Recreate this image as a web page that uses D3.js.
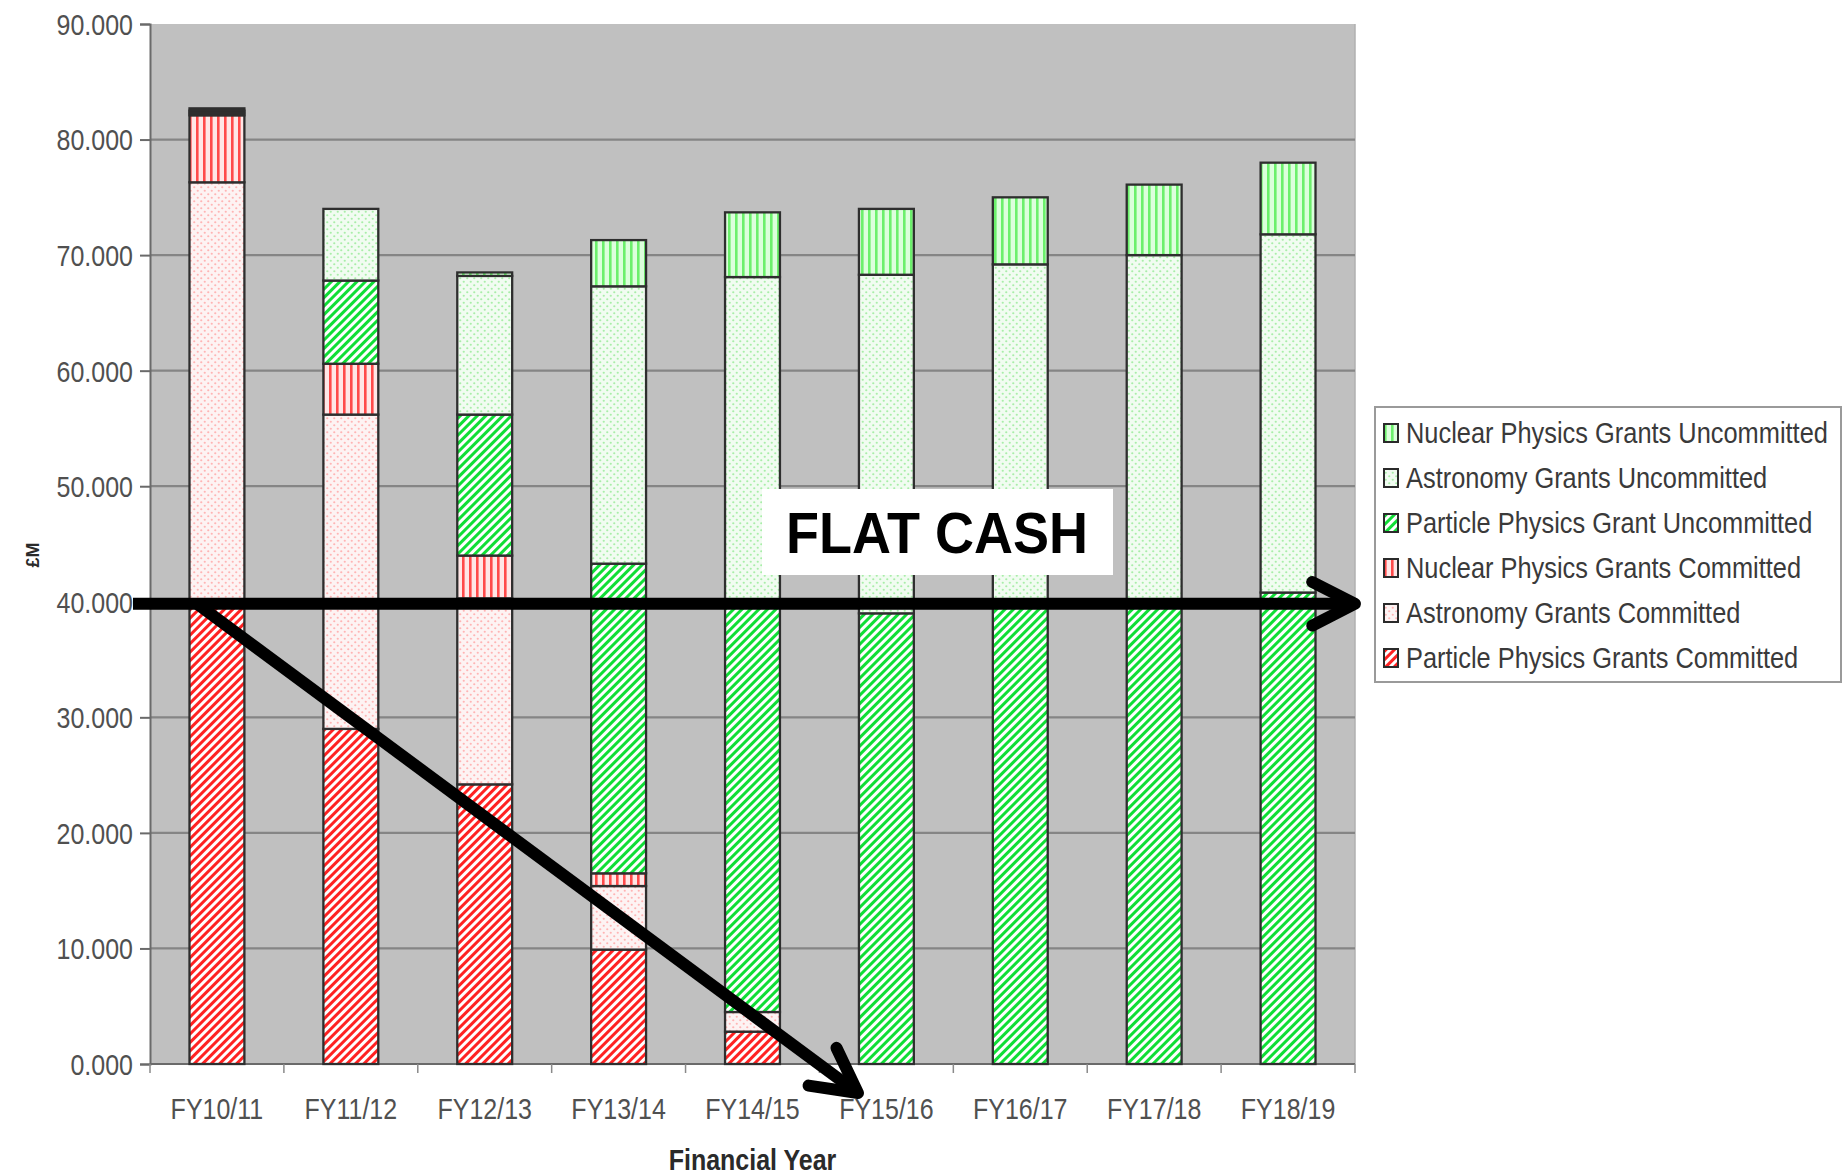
<!DOCTYPE html>
<html><head><meta charset="utf-8">
<script src="https://cdn.jsdelivr.net/npm/d3@7"></script>
<style>body{margin:0;background:#fff;} svg{display:block;}</style>
</head><body>
<svg id="chart" width="1843" height="1175"></svg>
<script>
// ---------- data ----------
const categories = ["FY10/11","FY11/12","FY12/13","FY13/14","FY14/15","FY15/16","FY16/17","FY17/18","FY18/19"];
const seriesKeys = ["ppc","astc","nucc","ppu","astu","nucu"];
const seriesNames = ["Particle Physics Grants Committed","Astronomy Grants Committed","Nuclear Physics Grants Committed",
                     "Particle Physics Grant Uncommitted","Astronomy Grants Uncommitted","Nuclear Physics Grants Uncommitted"];
const ppCommitted        = [39.8, 29.0, 24.2, 9.9, 2.8, 0, 0, 0, 0];
const astroCommitted     = [36.5, 27.2, 16.1, 5.5, 1.7, 0, 0, 0, 0];
const nuclearCommitted   = [5.8, 4.4, 3.7, 1.1, 0, 0, 0, 0, 0];
const ppUncommitted      = [0.2, 7.2, 12.2, 26.8, 35.5, 39.0, 40.0, 40.0, 40.8];
const astroUncommitted   = [0.2, 6.2, 12.0, 24.0, 28.1, 29.3, 29.2, 30.0, 31.0];
const nuclearUncommitted = [0.2, 0, 0.3, 4.0, 5.6, 5.7, 5.8, 6.1, 6.2];
const yTicks = [0,10,20,30,40,50,60,70,80,90];
const flatCashLevel = 40;
const annotationText = "FLAT CASH";
const xTitle = "Financial Year";
const yTitle = "£M";

// ---------- build table ----------
const seriesArrays = [ppCommitted, astroCommitted, nuclearCommitted, ppUncommitted, astroUncommitted, nuclearUncommitted];
const table = categories.map((c,i)=>{
  const row = {cat:c};
  seriesKeys.forEach((k,j)=>row[k]=seriesArrays[j][i]);
  return row;
});
const stacked = d3.stack().keys(seriesKeys)(table);

// ---------- layout ----------
const svg = d3.select("#chart");
const P = {left:150, right:1355, top:24, bottom:1064};
const x = d3.scaleBand().domain(categories).range([P.left,P.right]).paddingInner(0.59).paddingOuter(0.295);
const y = d3.scaleLinear().domain([0,90]).range([P.bottom,P.top]);
const FONT = '"Liberation Sans", Arial, Helvetica, sans-serif';
const SY = 1.15;

// ---------- patterns ----------
const defs = svg.append("defs");
function stripePattern(id, angle, period, stripeW, bg, fg){
  const p = defs.append("pattern").attr("id",id).attr("patternUnits","userSpaceOnUse")
    .attr("width",period).attr("height",period).attr("patternTransform",`rotate(${angle})`);
  p.append("rect").attr("width",period).attr("height",period).attr("fill",bg);
  p.append("rect").attr("x",0).attr("y",0).attr("width",stripeW).attr("height",period).attr("fill",fg);
}
function dotPattern(id, bg, fg){
  const p = defs.append("pattern").attr("id",id).attr("patternUnits","userSpaceOnUse")
    .attr("width",7).attr("height",7);
  p.append("rect").attr("width",7).attr("height",7).attr("fill",bg);
  p.append("circle").attr("cx",1.75).attr("cy",1.75).attr("r",1.1).attr("fill",fg);
  p.append("circle").attr("cx",5.25).attr("cy",5.25).attr("r",1.1).attr("fill",fg);
}
stripePattern("p-ppc", 45, 6, 3, "#ffffff", "#ff2222");
dotPattern("p-astc", "#fdf3f3", "#ffb4b4");
stripePattern("p-nucc", 0, 7, 2.6, "#ffe6e6", "#ff4a4a");
stripePattern("p-ppu", 45, 6, 3, "#ffffff", "#10de36");
dotPattern("p-astu", "#f1fcf1", "#a8eea8");
stripePattern("p-nucu", 0, 7, 2.6, "#dcffdc", "#6cf06c");

// ---------- plot area ----------
svg.append("rect").attr("x",P.left).attr("y",P.top).attr("width",P.right-P.left).attr("height",P.bottom-P.top)
  .attr("fill","#c0c0c0");
svg.append("line").attr("x1",P.right).attr("x2",P.right).attr("y1",P.top).attr("y2",P.bottom)
  .attr("stroke","#b0b0b0").attr("stroke-width",1.5);

// gridlines
svg.append("g").selectAll("line").data(yTicks.filter(t=>t>0 && t<90)).join("line")
  .attr("x1",P.left).attr("x2",P.right).attr("y1",d=>y(d)).attr("y2",d=>y(d))
  .attr("stroke","#858585").attr("stroke-width",2.2);

// y axis
const yAxis = d3.axisLeft(y).tickValues(yTicks).tickSize(10).tickFormat(d3.format(".3f"));
const gy = svg.append("g").attr("transform",`translate(${P.left},0)`).call(yAxis);
gy.select(".domain").attr("stroke","#6a6a6a").attr("stroke-width",2);
gy.selectAll(".tick line").attr("stroke","#6a6a6a").attr("stroke-width",2);
gy.selectAll(".tick text").remove();
gy.selectAll(".tick").append("text")
  .attr("transform",`translate(-17,0) scale(1,${SY})`)
  .attr("y",9).attr("text-anchor","end")
  .attr("font-family",FONT).attr("font-size",25).attr("fill","#505050")
  .text(d=>d3.format(".3f")(d));

// x axis (ticks between categories)
const step = x.step();
const boundaries = d3.range(categories.length+1).map(i=>P.left + i*step);
svg.append("line").attr("x1",P.left).attr("x2",P.right).attr("y1",P.bottom).attr("y2",P.bottom)
  .attr("stroke","#6a6a6a").attr("stroke-width",2);
svg.append("g").selectAll("line").data(boundaries).join("line")
  .attr("x1",d=>d).attr("x2",d=>d).attr("y1",P.bottom).attr("y2",P.bottom+9)
  .attr("stroke","#8a8a8a").attr("stroke-width",1.5);
svg.append("g").selectAll("text").data(categories).join("text")
  .attr("transform",d=>`translate(${x(d)+x.bandwidth()/2},${P.bottom+55}) scale(1,${SY})`)
  .attr("text-anchor","middle").attr("font-family",FONT).attr("font-size",25).attr("fill","#505050")
  .text(d=>d);

// ---------- bars ----------
const barG = svg.append("g");
stacked.forEach(s=>{
  barG.append("g").selectAll("rect").data(s.filter(d=>d[1]-d[0]>0)).join("rect")
    .attr("x",d=>x(d.data.cat)).attr("width",x.bandwidth())
    .attr("y",d=>y(d[1])).attr("height",d=>y(d[0])-y(d[1]))
    .attr("fill",`url(#p-${s.key})`).attr("stroke","#2e2e2e").attr("stroke-width",2.3);
});

// ---------- axis titles ----------
svg.append("text").attr("transform",`translate(${(P.left+P.right)/2},1170) scale(1,${SY})`)
  .attr("text-anchor","middle").attr("font-family",FONT).attr("font-weight","bold")
  .attr("font-size",25).attr("fill","#2a2a2a").text(xTitle);
svg.append("text").attr("transform",`translate(39,555) rotate(-90)`)
  .attr("text-anchor","middle").attr("font-family",FONT).attr("font-weight","bold")
  .attr("font-size",18).attr("fill","#2a2a2a").text(yTitle);

// ---------- legend ----------
const lg = svg.append("g");
lg.append("rect").attr("x",1375).attr("y",407).attr("width",466).attr("height",275)
  .attr("fill","#fff").attr("stroke","#9a9a9a").attr("stroke-width",2);
const legendOrder = seriesKeys.map((k,i)=>({key:k,name:seriesNames[i]})).reverse();
const rowY = d3.scalePoint().domain(legendOrder.map(d=>d.key)).range([433,658]);
const items = lg.selectAll("g.it").data(legendOrder).join("g").attr("class","it")
  .attr("transform",d=>`translate(1384,${rowY(d.key)})`);
items.append("rect").attr("x",0).attr("y",-9).attr("width",14).attr("height",18)
  .attr("fill",d=>`url(#p-${d.key})`).attr("stroke","#2a2a2a").attr("stroke-width",2);
items.append("text").attr("transform",`translate(22,0) scale(1,${SY})`).attr("y",9)
  .attr("font-family",FONT).attr("font-size",25.4).attr("fill","#3a3a3a").text(d=>d.name);

// ---------- annotations ----------
const yf = y(flatCashLevel)+2;
const ann = svg.append("g").attr("stroke","#000").attr("stroke-width",12)
  .attr("stroke-linecap","round").attr("stroke-linejoin","round").attr("fill","none");
// horizontal arrow
const hx0 = 133, hx1 = 1355;
ann.append("line").attr("x1",hx0).attr("x2",hx1-4).attr("y1",yf).attr("y2",yf).attr("stroke-linecap","butt");
const hArm = 48, hAng = 27*Math.PI/180;
ann.append("path").attr("d",`M${hx1-hArm*Math.cos(hAng)},${yf-hArm*Math.sin(hAng)} L${hx1},${yf} L${hx1-hArm*Math.cos(hAng)},${yf+hArm*Math.sin(hAng)}`);
// diagonal arrow
const d0 = [197, yf], d1 = [858, 1093];
ann.append("line").attr("x1",d0[0]).attr("y1",d0[1]).attr("x2",d1[0]).attr("y2",d1[1]).attr("stroke-linecap","butt");
const ang = Math.atan2(d1[1]-d0[1], d1[0]-d0[0]);
const arm = 50, aA = 28*Math.PI/180;
const a1 = [d1[0]-arm*Math.cos(ang-aA), d1[1]-arm*Math.sin(ang-aA)];
const a2 = [d1[0]-arm*Math.cos(ang+aA), d1[1]-arm*Math.sin(ang+aA)];
ann.append("path").attr("d",`M${a1[0]},${a1[1]} L${d1[0]},${d1[1]} L${a2[0]},${a2[1]}`);

// FLAT CASH label
svg.append("rect").attr("x",762).attr("y",489).attr("width",351).attr("height",86).attr("fill","#fff");
svg.append("text").attr("transform",`translate(937,553) scale(1,1.05)`).attr("text-anchor","middle")
  .attr("font-family",FONT).attr("font-weight","bold").attr("font-size",54).attr("fill","#000")
  .text(annotationText);
</script>
</body></html>
